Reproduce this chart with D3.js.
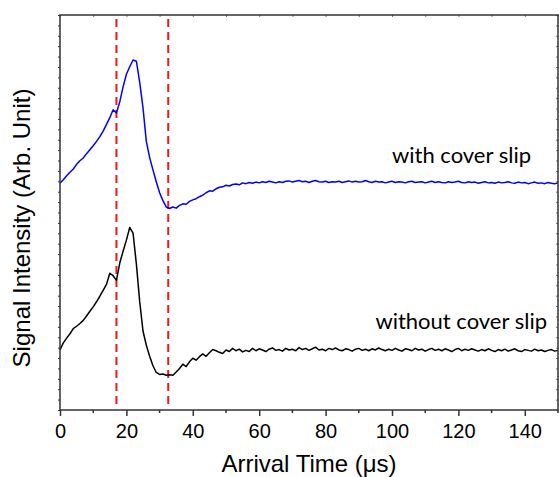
<!DOCTYPE html>
<html>
<head>
<meta charset="utf-8">
<script src="https://cdn.jsdelivr.net/npm/d3@7/dist/d3.min.js"></script>
<style>
  body { margin: 0; background: #fff; }
</style>
</head>
<body>
<svg id="chart"></svg>
<script>
// sample spacing of both traces, in microseconds
const timeStep = 1;

// signal, arbitrary units, one value per microsecond from 0 to 150
const withCoverSlip = [
  57.4, 58.3, 59.3, 60.2, 61.0, 62.2, 63.1, 63.8, 64.9, 65.9,
  66.9, 68.0, 69.2, 70.6, 72.3, 74.0, 76.0, 75.2, 78.0, 81.8,
  85.0, 86.9, 88.6, 88.3, 83.0, 76.5, 68.0, 63.9, 60.8, 57.8,
  55.0, 53.0, 51.4, 51.0, 51.4, 51.1, 51.8, 52.2, 52.1, 52.8,
  53.2, 53.5, 54.0, 54.4, 55.0, 55.5, 55.4, 56.0, 56.4, 56.5,
  56.9, 56.7, 57.1, 57.2, 57.0, 57.5, 57.3, 57.6, 57.4, 57.7,
  57.5, 57.8, 57.6, 57.9, 57.7, 57.5, 57.8, 57.6, 57.9, 58.0,
  57.7, 57.9, 58.1, 57.8, 57.9, 57.6, 57.9, 58.1, 57.8, 57.7,
  57.9, 57.6, 57.8, 57.7, 57.9, 57.6, 57.8, 58.0, 57.7, 57.9,
  57.7, 57.8, 58.1, 57.8, 57.6, 57.9, 57.7, 57.8, 57.5, 57.7,
  57.9, 57.6, 57.8, 57.7, 57.5, 57.8, 57.9, 57.6, 57.7, 57.8,
  57.5, 57.7, 57.9, 57.6, 57.8, 57.6, 57.5, 57.8, 57.6, 57.7,
  57.9, 57.6, 57.5, 57.8, 57.6, 57.7, 57.4, 57.6, 57.8, 57.5,
  57.6, 57.4, 57.7, 57.5, 57.6, 57.8, 57.5, 57.4, 57.7, 57.5,
  57.6, 57.3, 57.5, 57.7, 57.4, 57.5, 57.3, 57.6, 57.4, 57.3,
  57.5
];

const withoutCoverSlip = [
  15.2, 17.0, 18.2, 19.3, 20.6, 21.2, 21.9, 22.7, 23.8, 25.0,
  26.1, 27.4, 28.8, 30.3, 31.8, 34.6, 34.0, 32.8, 37.2, 40.2,
  43.0, 46.2, 44.8, 37.0, 27.5, 20.0, 16.4, 13.6, 11.2, 9.5,
  9.0, 9.1, 8.8, 8.9, 8.8, 9.6, 10.5, 11.6, 11.0, 12.2,
  13.1, 12.6, 13.5, 14.2, 13.6, 14.5, 15.3, 15.0, 14.6, 14.3,
  15.2, 14.8, 15.6, 15.0, 15.4, 14.7, 15.1, 14.8, 15.6, 15.0,
  15.5, 15.2, 14.8, 15.4, 15.7, 15.1, 15.3, 14.9, 15.6, 15.2,
  15.4, 15.0, 15.8, 15.3, 15.6, 15.1, 15.5, 15.9, 15.2, 15.4,
  15.0, 15.6, 15.3, 15.7, 15.2, 15.0, 15.5, 15.3, 14.9, 15.4,
  15.6, 15.1, 15.4, 15.0, 15.5, 15.2, 15.7, 15.3, 15.0, 15.4,
  15.1, 15.6, 15.2, 14.9, 15.5, 15.3, 15.0, 15.6, 15.2, 15.4,
  14.9, 15.3, 15.6, 15.1, 15.4, 15.0, 15.5, 15.2, 14.8, 15.3,
  15.6, 15.0, 15.4, 15.1, 15.5, 15.2, 14.9, 15.3, 15.0, 15.5,
  15.1, 14.8, 15.3, 15.0, 15.4, 14.9, 15.2, 15.5, 15.0, 14.8,
  15.3, 15.1, 14.9, 15.4, 15.0, 15.2, 14.8, 15.1, 15.3, 14.9,
  15.1
];

const markerTimes = [17, 32.6];
const xMajorTicks = [0, 20, 40, 60, 80, 100, 120, 140];
const xMinorTicks = [10, 30, 50, 70, 90, 110, 130, 150];
const seriesLabels = ["with cover slip", "without cover slip"];

const W = 559, H = 477;
const margin = { top: 15, right: 1, bottom: 67, left: 60 };
const plotLeft = margin.left, plotRight = W - margin.right;
const plotTop = margin.top, plotBottom = H - margin.bottom;

const svg = d3.select("#chart").attr("width", W).attr("height", H);

const x = d3.scaleLinear().domain([0, 150]).range([plotLeft, plotRight]);
const y = d3.scaleLinear().domain([0, 100]).range([plotBottom, plotTop]);

const axisColor = "#333";
const tickFont = "'Liberation Sans', Arial, sans-serif";

// dashed markers go under the traces
svg.append("g")
  .selectAll("line")
  .data(markerTimes)
  .join("line")
  .attr("x1", d => x(d)).attr("x2", d => x(d))
  .attr("y1", plotTop + 4).attr("y2", plotBottom - 2)
  .attr("stroke", "#f01818")
  .attr("stroke-width", 2)
  .attr("stroke-dasharray", "8,5");

const line = d3.line()
  .x((d, i) => x(i * timeStep))
  .y(d => y(d));

svg.append("path")
  .datum(withCoverSlip)
  .attr("d", line)
  .attr("fill", "none")
  .attr("stroke", "#0000ff")
  .attr("stroke-width", 1.5)
  .attr("stroke-linejoin", "round");

svg.append("path")
  .datum(withoutCoverSlip)
  .attr("d", line)
  .attr("fill", "none")
  .attr("stroke", "#000")
  .attr("stroke-width", 1.5)
  .attr("stroke-linejoin", "round");

// bottom axis: labelled majors, short minors
const xAxis = svg.append("g").attr("transform", `translate(0,${plotBottom})`);
xAxis.call(d3.axisBottom(x).tickValues(xMajorTicks).tickSize(6).tickSizeOuter(0))
  .call(g => g.select(".domain").remove())
  .call(g => g.selectAll(".tick line").attr("stroke", axisColor).attr("stroke-width", 1.5))
  .call(g => g.selectAll(".tick text")
    .attr("y", 28).attr("dy", null)
    .attr("fill", "#000")
    .style("font", `20px ${tickFont}`));
xAxis.append("g")
  .selectAll("line")
  .data(xMinorTicks)
  .join("line")
  .attr("x1", d => x(d)).attr("x2", d => x(d))
  .attr("y1", 0).attr("y2", 3)
  .attr("stroke", axisColor).attr("stroke-width", 1.5);

// top axis: tiny inward ticks
svg.append("g")
  .attr("transform", `translate(0,${plotTop})`)
  .call(d3.axisTop(x).tickValues(xMajorTicks.concat(xMinorTicks)).tickSize(-2).tickFormat(""))
  .call(g => g.select(".domain").remove())
  .call(g => g.selectAll(".tick line").attr("stroke", "#777"));

// left axis: small outward ticks, no labels
const yTicks = d3.range(0, 39).map(i => i * 100 / 38);
svg.append("g")
  .attr("transform", `translate(${plotLeft},0)`)
  .call(d3.axisLeft(y).tickValues(yTicks).tickSize(2).tickFormat(""))
  .call(g => g.select(".domain").remove())
  .call(g => g.selectAll(".tick line").attr("stroke", axisColor));

// right axis: tiny inward ticks
svg.append("g")
  .attr("transform", `translate(${plotRight},0)`)
  .call(d3.axisRight(y).tickValues(yTicks).tickSize(-2).tickFormat(""))
  .call(g => g.select(".domain").remove())
  .call(g => g.selectAll(".tick line").attr("stroke", "#777"));

// frame
svg.append("rect")
  .attr("x", plotLeft).attr("y", plotTop)
  .attr("width", plotRight - plotLeft).attr("height", plotBottom - plotTop)
  .attr("fill", "none")
  .attr("stroke", axisColor)
  .attr("stroke-width", 1.5);

// axis titles
svg.append("text")
  .attr("x", (plotLeft + plotRight) / 2).attr("y", 472)
  .attr("text-anchor", "middle")
  .style("font", `24px ${tickFont}`)
  .text("Arrival Time (μs)");

svg.append("text")
  .attr("transform", `translate(30,${(89 + 367) / 2}) rotate(-90)`)
  .attr("text-anchor", "middle")
  .style("font", `24px ${tickFont}`)
  .text("Signal Intensity (Arb. Unit)");

// trace labels
svg.append("text")
  .attr("x", 531).attr("y", 163)
  .attr("text-anchor", "end")
  .style("font", "22px Lato, 'Open Sans', sans-serif")
  .text(seriesLabels[0]);

svg.append("text")
  .attr("x", 547).attr("y", 329)
  .attr("text-anchor", "end")
  .style("font", "22px Lato, 'Open Sans', sans-serif")
  .text(seriesLabels[1]);
</script>
</body>
</html>
